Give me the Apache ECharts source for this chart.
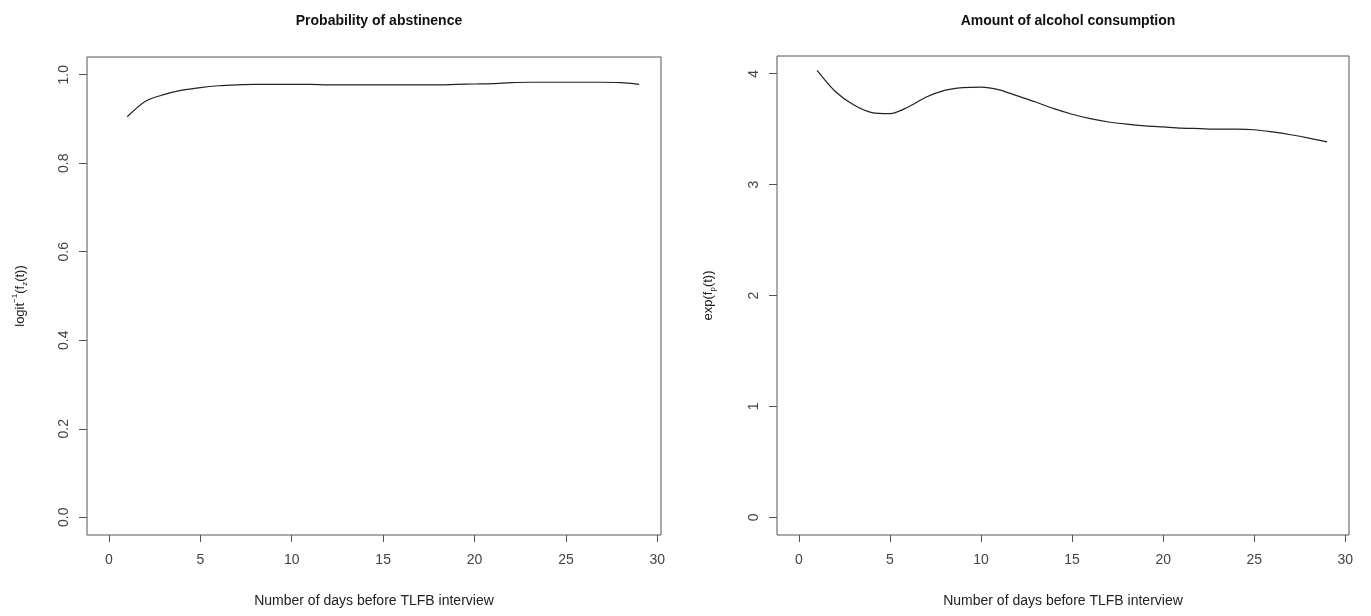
<!DOCTYPE html>
<html>
<head>
<meta charset="utf-8">
<script src="https://cdn.jsdelivr.net/npm/echarts@6/dist/echarts.min.js"></script>
<style>html,body{margin:0;padding:0;background:#fff}#c{width:1371px;height:616px}</style>
</head>
<body>
<div id="c"></div>
<script>
// ---- data ----
const days = [1,2,3,4,5,6,7,8,9,10,11,12,13,14,15,16,17,18,19,20,21,22,23,24,25,26,27,28,29];
const abstinence = [0.905,0.940,0.955,0.965,0.971,0.975,0.977,0.978,0.978,0.978,0.978,0.977,0.977,0.977,0.977,0.977,0.977,0.977,0.978,0.979,0.980,0.982,0.983,0.983,0.983,0.983,0.983,0.982,0.978];
const consumption = [4.03,3.84,3.72,3.65,3.64,3.70,3.79,3.85,3.875,3.88,3.855,3.80,3.745,3.685,3.635,3.595,3.565,3.545,3.53,3.52,3.51,3.505,3.50,3.50,3.495,3.475,3.45,3.42,3.385];
const xTicks = [0,5,10,15,20,25,30];
const yTicksLeft = [0,0.2,0.4,0.6,0.8,1.0];
const yTicksRight = [0,1,2,3,4];
const titles = ['Probability of abstinence','Amount of alcohol consumption'];
const xName = 'Number of days before TLFB interview';

const FONT = '"Liberation Sans", Arial, sans-serif';
const tickColor = '#555';
const labelColor = '#444';

function xAxis(gi){
  return {
    type:'value', gridIndex:gi, min:-1.2, max:30.2,
    name:xName, nameLocation:'middle', nameGap:59,
    nameTextStyle:{fontFamily:FONT,fontSize:14,color:'#222'},
    axisLine:{show:false,onZero:false},
    splitLine:{show:false},
    axisTick:{show:true,inside:false,length:7,customValues:xTicks,lineStyle:{color:tickColor,width:1}},
    axisLabel:{customValues:xTicks,margin:18,fontFamily:FONT,fontSize:14,color:labelColor}
  };
}
function yAxis(gi,min,max,ticks,fmt,name,gap){
  return {
    type:'value', gridIndex:gi, min:min, max:max,
    name:name, nameLocation:'middle', nameGap:gap,
    nameTextStyle:{fontFamily:FONT,fontSize:13,color:'#222',
      rich:{
        b:{fontFamily:FONT,fontSize:13,color:'#222',lineHeight:18},
        sup:{fontFamily:FONT,fontSize:8,color:'#222',verticalAlign:'top',lineHeight:18},
        sub:{fontFamily:FONT,fontSize:8,color:'#222',verticalAlign:'bottom',lineHeight:14}
      }},
    axisLine:{show:false,onZero:false},
    splitLine:{show:false},
    axisTick:{show:true,inside:false,length:8,customValues:ticks,lineStyle:{color:tickColor,width:1}},
    axisLabel:{customValues:ticks,rotate:90,margin:16,fontFamily:FONT,fontSize:14,color:labelColor,formatter:fmt}
  };
}

const chart = echarts.init(document.getElementById('c'),null,{renderer:'canvas'});
chart.setOption({
  animation:false,
  backgroundColor:'#fff',
  title:[
    {text:titles[0],left:374,top:9,textAlign:'center',textStyle:{fontFamily:FONT,fontSize:14,fontWeight:'bold',color:'#111'}},
    {text:titles[1],left:1063,top:9,textAlign:'center',textStyle:{fontFamily:FONT,fontSize:14,fontWeight:'bold',color:'#111'}}
  ],
  grid:[
    {left:87,right:710,top:57,bottom:81,show:true,borderColor:'#555',borderWidth:1,backgroundColor:'transparent'},
    {left:777,right:22,top:56,bottom:81,show:true,borderColor:'#555',borderWidth:1,backgroundColor:'transparent'}
  ],
  xAxis:[xAxis(0),xAxis(1)],
  yAxis:[
    yAxis(0,-0.04,1.04,yTicksLeft,v=>v.toFixed(1),'{b|logit}{sup|−1}{b|(f}{sub|z}{b|(t))}',58),
    yAxis(1,-0.16,4.16,yTicksRight,v=>String(v),'{b|exp(f}{sub|p}{b|(t))}',60)
  ],
  series:[
    {type:'line',xAxisIndex:0,yAxisIndex:0,data:days.map((d,i)=>[d,abstinence[i]]),smooth:0.3,showSymbol:false,lineStyle:{color:'#222',width:1.2}},
    {type:'line',xAxisIndex:1,yAxisIndex:1,data:days.map((d,i)=>[d,consumption[i]]),smooth:0.3,showSymbol:false,lineStyle:{color:'#222',width:1.2}}
  ]
});
</script>
</body>
</html>
